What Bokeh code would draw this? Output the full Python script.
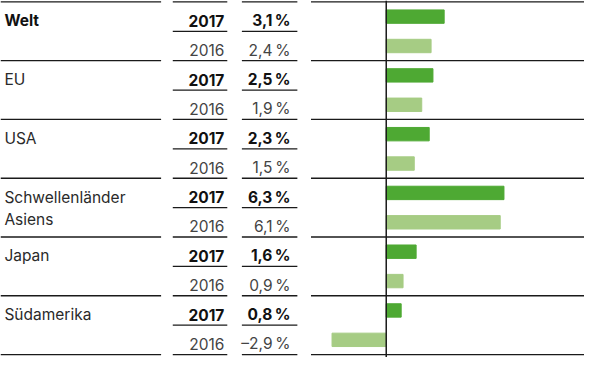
from bokeh.plotting import figure
from bokeh.models import Range1d
from bokeh.core.properties import value
from bokeh.embed import file_html
from bokeh.resources import INLINE

# ---- data ----
regions = ["Welt", "EU", "USA", "Schwellenländer\nAsiens", "Japan", "Südamerika"]
years = ["2017", "2016"]
growth_2017 = [3.1, 2.5, 2.3, 6.3, 1.6, 0.8]
growth_2016 = [2.4, 1.9, 1.5, 6.1, 0.9, -2.9]

# ---- layout (reference pixel space 600 x 373, rows of 30.7 px) ----
W, H = 584, 357
ROW = 30.7
TOP = 1.5
n_rows = 2 * len(regions)
y_top = (0 - TOP) / ROW
y_bot = (373 - TOP) / ROW
ZERO_PX = 396.3
PX_PER_PCT = 19.2

FONT = value("Inter")
FS = "15.5px"
DARK = "#4ea933"
LIGHT = "#a6cc84"
LINE = "#1a1a1a"

p = figure(width=W, height=H, x_range=Range1d(0, 600), y_range=Range1d(y_bot, y_top),
           x_axis_location=None, y_axis_location=None, toolbar_location=None,
           output_backend="svg", min_border=0, outline_line_color=None)
p.xgrid.visible = False
p.ygrid.visible = False
p.extra_x_ranges = {"pct": Range1d((0 - ZERO_PX) / PX_PER_PCT, (600 - ZERO_PX) / PX_PER_PCT)}

# bars
rows_2017 = [2 * i + 0.5 for i in range(len(regions))]
rows_2016 = [2 * i + 1.5 for i in range(len(regions))]
bh = 14 / ROW
p.hbar(y=rows_2017, left=0, right=growth_2017, height=bh, color=DARK, x_range_name="pct")
p.hbar(y=rows_2016, left=0, right=growth_2016, height=bh, color=LIGHT, x_range_name="pct")

# horizontal rules
gx0, gx1, gy = [], [], []
for g in range(len(regions) + 1):
    for a, b in [(0, 165), (319, 600)]:
        gx0.append(a); gx1.append(b); gy.append(2 * g)
for r in range(n_rows + 1):
    for a, b in [(177, 233), (248, 305)]:
        gx0.append(a); gx1.append(b); gy.append(r)
p.segment(x0=gx0, x1=gx1, y0=gy, y1=gy, line_color=LINE, line_width=1.3)

# zero line
p.segment(x0=[0], x1=[0], y0=[y_top], y1=[y_bot], line_color=LINE, line_width=1.5,
          x_range_name="pct")

BASE = 0.64
# region labels
for i, name in enumerate(regions):
    lines = name.split("\n")
    for k, ln in enumerate(lines):
        p.text(x=[4], y=[2 * i + BASE + k * 23.6 / ROW], text=[ln], text_font=FONT,
               text_font_size=FS, text_baseline="alphabetic", text_align="left",
               text_color="#111111" if i == 0 else "#2a2a2a",
               text_font_style="bold" if i == 0 else "normal")


def fmt(v):
    s = f"{abs(v):.1f}".replace(".", ",") + "\u2009%"
    return ("\u2013" + s) if v < 0 else s


ys17 = [2 * i + BASE for i in range(len(regions))]
ys16 = [2 * i + 1 + BASE for i in range(len(regions))]
p.text(x=[230] * len(regions), y=ys17, text=[years[0]] * len(regions), text_font=FONT,
       text_font_size=FS, text_baseline="alphabetic", text_align="right",
       text_color="#111111", text_font_style="bold")
p.text(x=[230] * len(regions), y=ys16, text=[years[1]] * len(regions), text_font=FONT,
       text_font_size=FS, text_baseline="alphabetic", text_align="right",
       text_color="#444444")
p.text(x=[298] * len(regions), y=ys17, text=[fmt(v) for v in growth_2017], text_font=FONT,
       text_font_size=FS, text_baseline="alphabetic", text_align="right",
       text_color="#111111", text_font_style="bold")
p.text(x=[298] * len(regions), y=ys16, text=[fmt(v) for v in growth_2016], text_font=FONT,
       text_font_size=FS, text_baseline="alphabetic", text_align="right",
       text_color="#444444")

open("out.html", "w").write(file_html(p, INLINE))
